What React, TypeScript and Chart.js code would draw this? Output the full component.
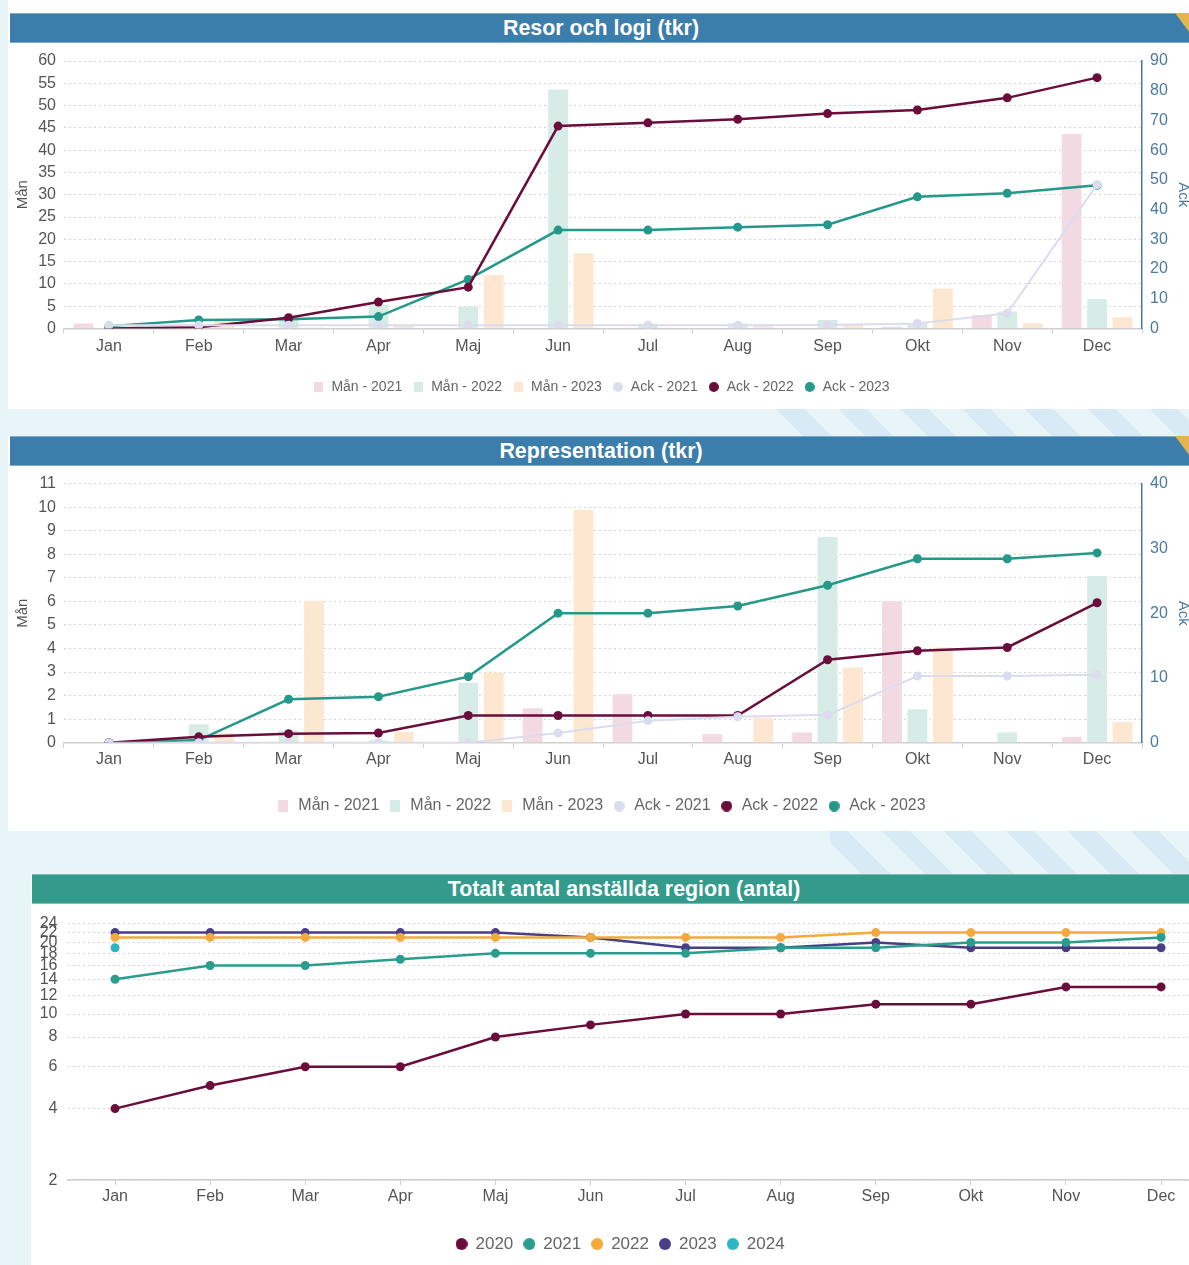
import React, { useEffect, useRef } from "react";
import { Chart, registerables } from "chart.js";

Chart.register(...registerables);

const FONT = "'Liberation Sans', Arial, sans-serif";

const months = ["Jan", "Feb", "Mar", "Apr", "Maj", "Jun", "Jul", "Aug", "Sep", "Okt", "Nov", "Dec"];

// Chart 1: Resor och logi (tkr)
const resorMan2021 = [1.1, 0, 0, 0, 0, 0, 0, 0, 0.1, 0.4, 3.0, 43.6];
const resorMan2022 = [0, 0.3, 2.8, 5.4, 4.9, 53.6, 1.1, 1.2, 1.9, 1.2, 3.8, 6.6];
const resorMan2023 = [0.8, 2.1, 0.2, 0.9, 12.0, 16.9, 0, 0.9, 0.8, 9.0, 1.2, 2.5];
const resorAck2021 = [1.1, 1.1, 1.1, 1.1, 1.1, 1.1, 1.1, 1.1, 1.2, 1.7, 5.1, 48.4];
const resorAck2022 = [0, 0.4, 3.6, 8.9, 13.9, 68.1, 69.2, 70.4, 72.3, 73.5, 77.6, 84.4];
const resorAck2023 = [0.8, 2.9, 3.1, 4.0, 16.5, 33.1, 33.1, 34.1, 34.9, 44.3, 45.5, 48.2];

// Chart 2: Representation (tkr)
const reprMan2021 = [0, 0, 0, 0, 0, 1.46, 2.06, 0.36, 0.43, 6.0, 0, 0.24];
const reprMan2022 = [0, 0.78, 0.5, 0.1, 2.55, 0, 0, 0, 8.73, 1.42, 0.43, 7.08];
const reprMan2023 = [0, 0.4, 6.03, 0.45, 2.98, 9.89, 0, 1.06, 3.19, 4.04, 0, 0.88];
const reprAck2021 = [0, 0, 0, 0, 0, 1.5, 3.4, 4.0, 4.3, 10.3, 10.3, 10.5];
const reprAck2022 = [0, 0.9, 1.4, 1.5, 4.2, 4.2, 4.2, 4.2, 12.8, 14.2, 14.7, 21.6];
const reprAck2023 = [0, 0.4, 6.7, 7.1, 10.2, 20.0, 20.0, 21.1, 24.3, 28.4, 28.4, 29.3];

// Chart 3: Totalt antal anställda region (antal)
const anst2020 = [4, 5, 6, 6, 8, 9, 10, 10, 11, 11, 13, 13];
const anst2021 = [14, 16, 16, 17, 18, 18, 18, 19, 19, 20, 20, 21];
const anst2022 = [21, 21, 21, 21, 21, 21, 21, 21, 22, 22, 22, 22];
const anst2023 = [22, 22, 22, 22, 22, 21, 19, 19, 20, 19, 19, 19];
const anst2024 = [19, null, null, null, null, null, null, null, null, null, null, null];
const anstTicks = [2, 4, 6, 8, 10, 12, 14, 16, 18, 20, 22, 24];

const C_PINK = "#f3dae2";
const C_LGREEN = "#d7ece6";
const C_LORANGE = "#fde7d0";
const C_LAV = "#dcdcef";
const C_MAROON = "#6b0d3b";
const C_TEAL = "#24998a";
const C_ORANGE = "#f5a93b";
const C_PURPLE = "#4a3f86";
const C_CYAN = "#2cb6c4";
const AXIS_BLUE = "#4a7aa3";

type MarkerSpec = { rectW: number; rectH: number; circle: number };

function marker(color: string, shape: "rect" | "circle", w: number, h: number): HTMLCanvasElement {
  const c = document.createElement("canvas");
  c.width = w;
  c.height = h;
  const ctx = c.getContext("2d") as CanvasRenderingContext2D;
  ctx.fillStyle = color;
  if (shape === "rect") {
    ctx.fillRect(0, 0, w, h);
  } else {
    ctx.beginPath();
    ctx.arc(w / 2, h / 2, w / 2, 0, Math.PI * 2);
    ctx.fill();
  }
  return c;
}

function legendLabels(fontSize: number, boxW: number, pad: number, m: MarkerSpec) {
  return {
    usePointStyle: true,
    boxWidth: boxW,
    boxHeight: Math.min(fontSize, 10),
    padding: pad,
    color: "#666",
    font: { size: fontSize, family: FONT },
    sort: (a: any, b: any) => a.datasetIndex - b.datasetIndex,
    generateLabels: (chart: any) => {
      const items = (Chart.defaults as any).plugins.legend.labels.generateLabels(chart);
      items.forEach((it: any) => {
        const ds = chart.data.datasets[it.datasetIndex];
        const isBar = ds.type === "bar";
        const col = isBar ? ds.backgroundColor : ds.borderColor;
        it.pointStyle = isBar ? marker(col, "rect", m.rectW, m.rectH) : marker(col, "circle", m.circle, m.circle);
        it.fillStyle = col;
        it.strokeStyle = col;
        it.lineWidth = 0;
      });
      return items;
    },
  };
}

function lineDs(label: string, data: any[], color: string, width = 2.5) {
  return {
    type: "line",
    label,
    data,
    yAxisID: "y1",
    borderColor: color,
    backgroundColor: color,
    borderWidth: width,
    pointRadius: 4.5,
    pointBorderWidth: 0,
    pointBackgroundColor: color,
    tension: 0,
    order: 1,
  };
}

function barDs(label: string, data: number[], color: string) {
  return {
    type: "bar",
    label,
    data,
    yAxisID: "y",
    backgroundColor: color,
    borderWidth: 0,
    categoryPercentage: 0.85,
    barPercentage: 0.78,
    order: 2,
  };
}

function comboConfig(opts: {
  m1: number[]; m2: number[]; m3: number[];
  a1: number[]; a2: number[]; a3: number[];
  leftMax: number; leftStep: number; rightMax: number; rightStep: number;
  padTop: number; padBottom: number; xH: number; xPad: number;
  legendFont: number; legendBoxW: number; legendPad: number; markers: MarkerSpec;
}): any {
  return {
    type: "bar",
    data: {
      labels: months,
      datasets: [
        barDs("Mån - 2021", opts.m1, C_PINK),
        barDs("Mån - 2022", opts.m2, C_LGREEN),
        barDs("Mån - 2023", opts.m3, C_LORANGE),
        lineDs("Ack - 2021", opts.a1, C_LAV, 2),
        lineDs("Ack - 2022", opts.a2, C_MAROON),
        lineDs("Ack - 2023", opts.a3, C_TEAL),
      ],
    },
    options: {
      responsive: false,
      animation: false,
      layout: { padding: { top: opts.padTop, bottom: opts.padBottom, left: 0, right: 0 } },
      plugins: {
        legend: {
          position: "bottom",
          labels: legendLabels(opts.legendFont, opts.legendBoxW, opts.legendPad, opts.markers),
        },
        tooltip: { enabled: false },
        title: { display: false },
      },
      scales: {
        x: {
          offset: true,
          grid: { display: true, drawOnChartArea: false, offset: true, tickLength: 5, color: "#cfcfcf" },
          border: { display: true, color: "#cfcfcf", width: 1.5 },
          ticks: { color: "#555", font: { size: 16, family: FONT }, padding: opts.xPad, maxRotation: 0 },
          afterFit: (s: any) => { s.height = opts.xH; },
        },
        y: {
          position: "left",
          min: 0,
          max: opts.leftMax,
          ticks: { stepSize: opts.leftStep, color: "#555", font: { size: 16, family: FONT }, padding: 8, autoSkip: false },
          grid: { color: "#d6d6d6", drawTicks: false, lineWidth: 1 },
          border: { display: false, dash: [2, 3] },
          title: { display: true, text: "Mån", color: "#555", font: { size: 15, family: FONT }, padding: { top: 4, bottom: 0 } },
          afterFit: (s: any) => { s.width = 54; },
        },
        y1: {
          position: "right",
          min: 0,
          max: opts.rightMax,
          ticks: { stepSize: opts.rightStep, color: AXIS_BLUE, font: { size: 16, family: FONT }, padding: 8 },
          grid: { drawOnChartArea: false, drawTicks: false },
          border: { display: true, color: AXIS_BLUE, width: 1.5 },
          title: { display: true, text: "Ack", color: AXIS_BLUE, font: { size: 15, family: FONT }, padding: { top: 0, bottom: 4 } },
          afterFit: (s: any) => { s.width = 50; },
        },
      },
    },
  };
}

function anstConfig(): any {
  const ds = (label: string, data: any[], color: string) => ({
    label,
    data,
    borderColor: color,
    backgroundColor: color,
    borderWidth: 2.5,
    pointRadius: 4.5,
    pointBorderWidth: 0,
    pointBackgroundColor: color,
    tension: 0,
    type: "line",
  });
  return {
    type: "line",
    data: {
      labels: months,
      datasets: [
        ds("2020", anst2020, C_MAROON),
        ds("2021", anst2021, "#2a9d8f"),
        ds("2022", anst2022, C_ORANGE),
        ds("2023", anst2023, C_PURPLE),
        ds("2024", anst2024, C_CYAN),
      ],
    },
    options: {
      responsive: false,
      animation: false,
      layout: { padding: { top: 18.7, bottom: 2.5, left: 0, right: 7.4 } },
      plugins: {
        legend: { position: "bottom", labels: legendLabels(17, 11, 10.5, { rectW: 12, rectH: 12, circle: 12 }) },
        tooltip: { enabled: false },
      },
      scales: {
        x: {
          offset: true,
          grid: { display: true, drawOnChartArea: false, offset: false, tickLength: 5, color: "#cfcfcf" },
          border: { display: true, color: "#cfcfcf", width: 1.5 },
          ticks: { color: "#555", font: { size: 16, family: FONT }, padding: 2, maxRotation: 0 },
          afterFit: (s: any) => { s.height = 44.8; },
        },
        y: {
          type: "logarithmic",
          min: 2,
          max: 24,
          bounds: "data",
          afterBuildTicks: (s: any) => { s.ticks = anstTicks.map((v) => ({ value: v })); },
          ticks: { color: "#555", font: { size: 16, family: FONT }, padding: 10, autoSkip: false, callback: (v: any) => String(v) },
          grid: { color: "#d6d6d6", drawTicks: false },
          border: { display: false, dash: [2, 3] },
          afterFit: (s: any) => { s.width = 35.5; },
        },
      },
    },
  };
}

function ChartCanvas(props: { make: () => any; left: number; top: number; width: number; height: number }) {
  const ref = useRef<HTMLCanvasElement>(null);
  useEffect(() => {
    const chart = new Chart(ref.current as HTMLCanvasElement, props.make());
    return () => chart.destroy();
  }, []);
  return (
    <canvas
      ref={ref}
      width={props.width}
      height={props.height}
      style={{ position: "absolute", left: props.left, top: props.top, width: props.width, height: props.height }}
    />
  );
}

function Header(props: { text: string; left: number; top: number; width: number; color: string }) {
  return (
    <div
      style={{
        position: "absolute",
        left: props.left,
        top: props.top,
        width: props.width,
        height: 30,
        background: props.color,
        borderTop: "1px solid rgba(255,255,255,0.35)",
        borderBottom: "1px solid rgba(255,255,255,0.35)",
        boxSizing: "border-box",
        color: "#fff",
        fontFamily: FONT,
        fontWeight: "bold",
        fontSize: 21.4,
        lineHeight: "28px",
        textAlign: "center",
      }}
    >
      {props.text}
    </div>
  );
}

function Tri(props: { left: number; top: number }) {
  return (
    <div
      style={{
        position: "absolute",
        left: props.left,
        top: props.top,
        width: 0,
        height: 0,
        borderTop: "20px solid #e2b64a",
        borderLeft: "15px solid transparent",
      }}
    />
  );
}

const stripes =
  "repeating-linear-gradient(45deg, rgba(205,228,243,0) 0px, rgba(205,228,243,0) 24px, rgba(205,228,243,0.6) 24px, rgba(205,228,243,0.6) 44px)";

export default function App() {
  return (
    <div
      style={{
        position: "fixed",
        left: 0,
        top: 0,
        width: 1189,
        height: 1265,
        overflow: "hidden",
        background: "#e7f4f8",
      }}
    >
      {/* decorative stripes */}
      <div style={{ position: "absolute", left: 770, top: 405, width: 440, height: 32, background: stripes }} />
      <div style={{ position: "absolute", left: 830, top: 828, width: 380, height: 48, background: stripes }} />

      {/* Panel 1 */}
      <div style={{ position: "absolute", left: 8, top: 0, width: 1200, height: 409, background: "#fff" }} />
      <Header text="Resor och logi (tkr)" left={10} top={13} width={1182} color="#3b7dab" />
      <Tri left={1175} top={13} />
      <ChartCanvas
        left={10}
        top={43}
        width={1182}
        height={365}
        make={() =>
          comboConfig({
            m1: resorMan2021, m2: resorMan2022, m3: resorMan2023,
            a1: resorAck2021, a2: resorAck2022, a3: resorAck2023,
            leftMax: 60, leftStep: 5, rightMax: 90, rightStep: 10,
            padTop: 18, padBottom: 4, xH: 41.5, xPad: 3,
            legendFont: 14, legendBoxW: 12, legendPad: 10,
            markers: { rectW: 9, rectH: 10, circle: 10 },
          })
        }
      />

      {/* Panel 2 */}
      <div style={{ position: "absolute", left: 8, top: 436, width: 1200, height: 395, background: "#fff" }} />
      <Header text="Representation (tkr)" left={10} top={436} width={1182} color="#3b7dab" />
      <Tri left={1175} top={436} />
      <ChartCanvas
        left={10}
        top={466}
        width={1182}
        height={364}
        make={() =>
          comboConfig({
            m1: reprMan2021, m2: reprMan2022, m3: reprMan2023,
            a1: reprAck2021, a2: reprAck2022, a3: reprAck2023,
            leftMax: 11, leftStep: 1, rightMax: 40, rightStep: 10,
            padTop: 17.3, padBottom: 6, xH: 46.3, xPad: 2,
            legendFont: 16, legendBoxW: 14, legendPad: 9,
            markers: { rectW: 10, rectH: 12, circle: 11 },
          })
        }
      />

      {/* Panel 3 */}
      <div style={{ position: "absolute", left: 31, top: 874, width: 1200, height: 400, background: "#fff" }} />
      <Header text="Totalt antal anställda region (antal)" left={32} top={874} width={1184} color="#349b8c" />
      <ChartCanvas left={32} top={904} width={1184} height={361} make={anstConfig} />
    </div>
  );
}
